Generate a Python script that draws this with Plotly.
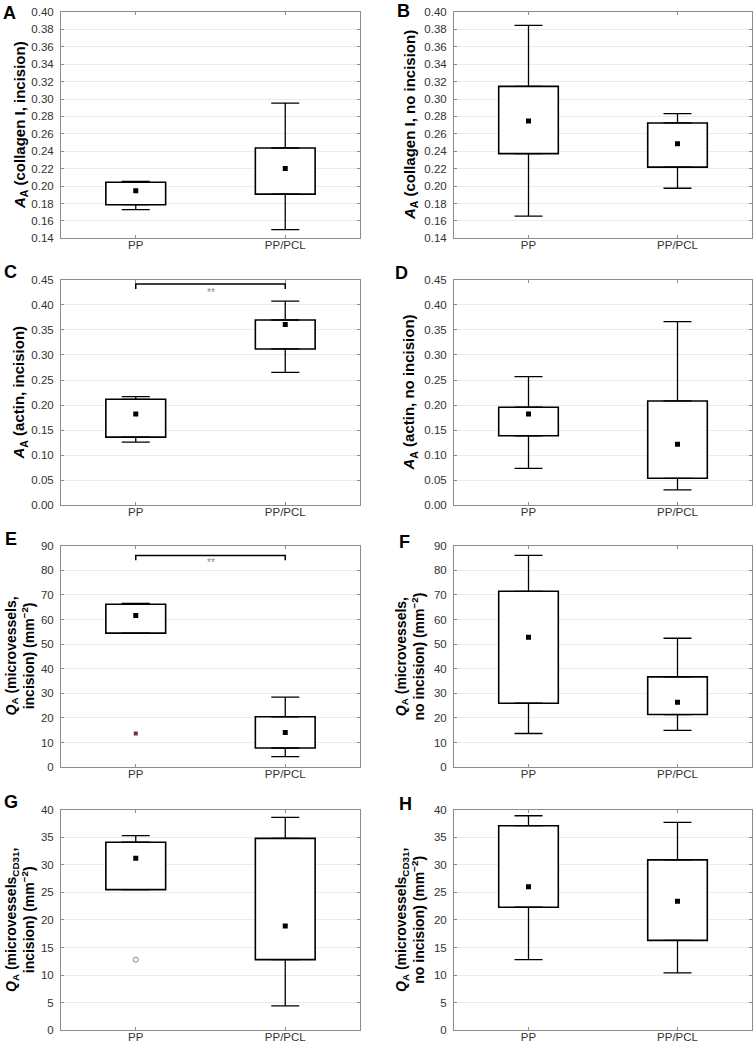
import plotly.graph_objects as go

categories = ["PP", "PP/PCL"]

# Panel A: A_A (collagen I, incision)
A_min = [0.173, 0.150]
A_q1 = [0.1786, 0.1907]
A_median = [0.1945, 0.2203]
A_q3 = [0.2044, 0.2437]
A_max = [0.2055, 0.2952]

# Panel B: A_A (collagen I, no incision)
B_min = [0.1654, 0.1975]
B_q1 = [0.2373, 0.2218]
B_median = [0.2747, 0.2486]
B_q3 = [0.3145, 0.2725]
B_max = [0.3845, 0.2831]

# Panel C: A_A (actin, incision)
C_min = [0.1261, 0.2654]
C_q1 = [0.1359, 0.3120]
C_median = [0.1819, 0.3606]
C_q3 = [0.2115, 0.3698]
C_max = [0.2167, 0.4073]

# Panel D: A_A (actin, no incision)
D_min = [0.0735, 0.0308]
D_q1 = [0.1386, 0.0538]
D_median = [0.1819, 0.1215]
D_q3 = [0.1957, 0.2082]
D_max = [0.2568, 0.3666]

# Panel E: Q_A (microvessels, incision)
E_min = [54.5, 4.3]
E_q1 = [54.5, 7.8]
E_median = [61.7, 14.1]
E_q3 = [66.2, 20.5]
E_max = [66.6, 28.5]
E_outlier_x = ["PP"]
E_outlier_y = [13.7]

# Panel F: Q_A (microvessels, no incision)
F_min = [13.7, 15.0]
F_q1 = [26.0, 21.4]
F_median = [52.8, 26.4]
F_q3 = [71.5, 36.7]
F_max = [86.1, 52.4]

# Panel G: Q_A (microvessels CD31, incision)
G_min = [25.5, 4.4]
G_q1 = [25.5, 12.8]
G_median = [31.2, 18.9]
G_q3 = [34.1, 34.8]
G_max = [35.3, 38.6]
G_outlier_x = ["PP"]
G_outlier_y = [12.8]

# Panel H: Q_A (microvessels CD31, no incision)
H_min = [12.8, 10.4]
H_q1 = [22.3, 16.3]
H_median = [26.0, 23.4]
H_q3 = [37.1, 30.9]
H_max = [38.9, 37.7]

# significance brackets (top line, end of the legs, label level)
C_bracket = [0.4415, 0.4316, 0.4250]
E_bracket = [86.0, 84.1, 83.0]

y_ranges = {"A": [0.14, 0.40], "B": [0.14, 0.40], "C": [0, 0.45], "D": [0, 0.45],
            "E": [0, 90], "F": [0, 90], "G": [0, 40], "H": [0, 40]}
y_dticks = {"A": 0.02, "B": 0.02, "C": 0.05, "D": 0.05, "E": 10, "F": 10, "G": 5, "H": 5}
y_formats = {"A": ".2f", "B": ".2f", "C": ".2f", "D": ".2f", "E": "d", "F": "d", "G": "d", "H": "d"}

titles = {
    "A": "<i>A</i><sub>A</sub> (collagen I, incision)",
    "B": "<i>A</i><sub>A</sub> (collagen I, no incision)",
    "C": "<i>A</i><sub>A</sub> (actin, incision)",
    "D": "<i>A</i><sub>A</sub> (actin, no incision)",
    "E": "<i>Q</i><sub>A</sub> (microvessels,<br>incision) (mm<sup>−2</sup>)",
    "F": "<i>Q</i><sub>A</sub> (microvessels,<br>no incision) (mm<sup>−2</sup>)",
    "G": "<i>Q</i><sub>A</sub> (microvessels<sub>CD31</sub>,<br>incision) (mm<sup>−2</sup>)",
    "H": "<i>Q</i><sub>A</sub> (microvessels<sub>CD31</sub>,<br>no incision) (mm<sup>−2</sup>)",
}

stats = {
    "A": (A_min, A_q1, A_median, A_q3, A_max),
    "B": (B_min, B_q1, B_median, B_q3, B_max),
    "C": (C_min, C_q1, C_median, C_q3, C_max),
    "D": (D_min, D_q1, D_median, D_q3, D_max),
    "E": (E_min, E_q1, E_median, E_q3, E_max),
    "F": (F_min, F_q1, F_median, F_q3, F_max),
    "G": (G_min, G_q1, G_median, G_q3, G_max),
    "H": (H_min, H_q1, H_median, H_q3, H_max),
}

W, H_PX = 753, 1050
col_px = [(61, 360), (454, 752)]
row_px = [(6, 235), (277, 505), (546, 770), (813, 1036)]
title_x_px = [20, 410]
letter_pos = {"A": (1, 15), "B": (395, 13), "C": (2, 277), "D": (393, 278),
              "E": (3, 547), "F": (397, 550), "G": (2, 813), "H": (397, 815)}

FONT = "Arial, 'Liberation Sans', sans-serif"
fig = go.Figure()
layout = dict(width=W, height=H_PX, margin=dict(l=0, r=0, t=0, b=0),
              paper_bgcolor="white", plot_bgcolor="white", showlegend=False,
              font=dict(family=FONT, color="#333"), annotations=[])

panels = list("ABCDEFGH")
for i, p in enumerate(panels):
    r, c = i // 2, i % 2
    n = "" if i == 0 else str(i + 1)
    xa, ya = "x" + n, "y" + n
    mn, q1, med, q3, mx = stats[p]
    # box (interquartile range)
    fig.add_trace(go.Bar(x=categories, base=q1, y=[b - a for a, b in zip(q1, q3)],
                         width=0.4, marker=dict(color="white", line=dict(color="black", width=1.6)),
                         xaxis=xa, yaxis=ya, hoverinfo="skip"))
    # upper whiskers
    fig.add_trace(go.Scatter(x=categories, y=q3, mode="markers", marker=dict(size=1, opacity=0),
                             error_y=dict(type="data", symmetric=False,
                                          array=[b - a for a, b in zip(q3, mx)], arrayminus=[0, 0],
                                          color="black", thickness=1.3, width=14),
                             xaxis=xa, yaxis=ya, hoverinfo="skip"))
    # lower whiskers
    fig.add_trace(go.Scatter(x=categories, y=q1, mode="markers", marker=dict(size=1, opacity=0),
                             error_y=dict(type="data", symmetric=False,
                                          array=[0, 0], arrayminus=[a - b for a, b in zip(q1, mn)],
                                          color="black", thickness=1.3, width=14),
                             xaxis=xa, yaxis=ya, hoverinfo="skip"))
    # medians
    fig.add_trace(go.Scatter(x=categories, y=med, mode="markers",
                             marker=dict(symbol="square", size=5, color="black"),
                             xaxis=xa, yaxis=ya))
    x0, x1 = col_px[c]
    t0, t1 = row_px[r]
    layout["xaxis" + n] = dict(domain=[x0 / W, x1 / W], anchor=ya, type="category",
                               range=[-0.5, 1.5], showline=True, linecolor="#8c8c8c", linewidth=1,
                               mirror="ticks", ticks="inside", ticklen=3, tickcolor="#8c8c8c",
                               showgrid=False, ticklabelstandoff=-4,
                               tickfont=dict(size=11.5, color="#333", family=FONT))
    layout["yaxis" + n] = dict(domain=[1 - t1 / H_PX, 1 - t0 / H_PX], anchor=xa,
                               range=y_ranges[p], dtick=y_dticks[p], tick0=0,
                               tickformat=y_formats[p], showline=True, linecolor="#8c8c8c",
                               linewidth=1, mirror="ticks", ticks="inside", ticklen=3,
                               tickcolor="#8c8c8c", showgrid=True, gridcolor="#ececec",
                               gridwidth=1, zeroline=False, ticklabelstandoff=4,
                               tickfont=dict(size=11.5, color="#333", family=FONT))
    # y-axis title
    layout["annotations"].append(dict(
        text="<b>" + titles[p] + "</b>", xref="paper", yref="paper",
        x=title_x_px[c] / W, y=1 - (t0 + t1) / 2 / H_PX, xanchor="center", yanchor="middle",
        textangle=-90, showarrow=False,
        font=dict(size=15 if r < 2 else 14, color="black", family=FONT)))
    # panel letter
    lx, ly = letter_pos[p]
    layout["annotations"].append(dict(
        text="<b>" + p + "</b>", xref="paper", yref="paper", x=lx / W, y=1 - (ly + 4) / H_PX,
        xanchor="left", yanchor="bottom", showarrow=False,
        font=dict(size=18, color="black", family=FONT)))

# outliers
fig.add_trace(go.Scatter(x=E_outlier_x, y=E_outlier_y, mode="markers",
                         marker=dict(symbol="square", size=4, color="#7a2d3d"),
                         xaxis="x5", yaxis="y5"))
fig.add_trace(go.Scatter(x=G_outlier_x, y=G_outlier_y, mode="markers",
                         marker=dict(symbol="circle-open", size=5, color="#8a7a8a",
                                     line=dict(width=1)),
                         xaxis="x7", yaxis="y7"))

# significance brackets
for br, xa, ya in [(C_bracket, "x3", "y3"), (E_bracket, "x5", "y5")]:
    fig.add_trace(go.Scatter(x=[categories[0], categories[0], categories[1], categories[1]],
                             y=[br[1], br[0], br[0], br[1]], mode="lines",
                             line=dict(color="black", width=1.5), xaxis=xa, yaxis=ya,
                             hoverinfo="skip"))
    layout["annotations"].append(dict(text="**", xref=xa, yref=ya, x=0.5, y=br[2],
                                      showarrow=False, xanchor="center", yanchor="middle",
                                      font=dict(size=10, color="#888", family=FONT)))

fig.update_layout(**layout)
fig.write_html("out.html", config={"displayModeBar": False},
               post_script="document.body.style.margin='0';document.body.style.overflow='hidden';")
